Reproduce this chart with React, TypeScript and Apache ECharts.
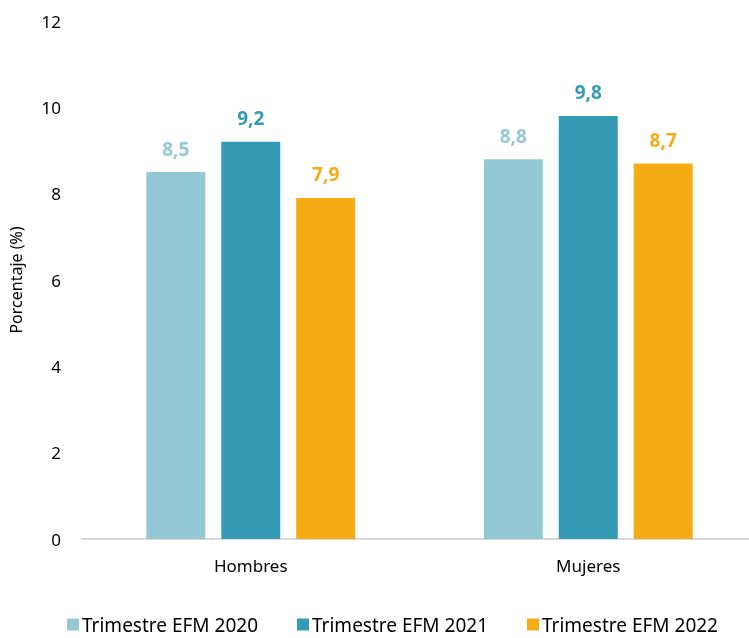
import React, { useEffect, useRef } from "react";
import * as echarts from "echarts";

const categories = ["Hombres", "Mujeres"];
const seriesNames = ["Trimestre EFM 2020", "Trimestre EFM 2021", "Trimestre EFM 2022"];
const values2020 = [8.5, 8.8];
const values2021 = [9.2, 9.8];
const values2022 = [7.9, 8.7];
const colors = ["#92C9D5", "#359BB4", "#F5AB13"];

export default function App() {
  const ref = useRef<HTMLDivElement>(null);
  useEffect(() => {
    if (!ref.current) return;
    const chart = echarts.init(ref.current, undefined, { renderer: "svg" });
    const font = "'Noto Sans', sans-serif";
    const data = [values2020, values2021, values2022];
    chart.setOption({
      animation: false,
      textStyle: { fontFamily: font },
      grid: { left: 79, right: 0, top: 21, bottom: 99 },
      legend: {
        bottom: 4,
        left: 67,
        padding: 0,
        itemWidth: 12,
        itemHeight: 12,
        itemGap: 39,
        icon: "rect",
        textStyle: { fontSize: 19, color: "#000", fontFamily: font, padding: [0, 0, 0, -2] },
        data: seriesNames,
      },
      xAxis: {
        type: "category",
        data: categories,
        axisLine: { lineStyle: { color: "#d9d9d9", width: 2 } },
        axisTick: { show: false },
        axisLabel: { fontSize: 17, color: "#000", margin: 18, fontFamily: font },
      },
      yAxis: {
        type: "value",
        min: 0,
        max: 12,
        interval: 2,
        name: "Porcentaje (%)",
        nameLocation: "middle",
        nameGap: 58,
        nameTextStyle: { fontSize: 16, color: "#000", fontFamily: font },
        axisLine: { show: false },
        axisTick: { show: false },
        splitLine: { show: false },
        axisLabel: { fontSize: 17, color: "#000", margin: 21, fontFamily: font },
      },
      series: seriesNames.map((name, i) => ({
        name,
        type: "bar",
        data: data[i],
        barWidth: 59,
        barGap: "27%",
        itemStyle: { color: colors[i] },
        label: {
          show: true,
          position: "top",
          distance: 14,
          color: colors[i],
          fontWeight: "bold",
          fontSize: 19,
          fontFamily: font,
          formatter: (p: any) => String(p.value).replace(".", ","),
        },
      })),
    });
    return () => chart.dispose();
  }, []);
  return (
    <div
      ref={ref}
      style={{ position: "fixed", left: 0, top: 0, width: 757, height: 638 }}
    />
  );
}
